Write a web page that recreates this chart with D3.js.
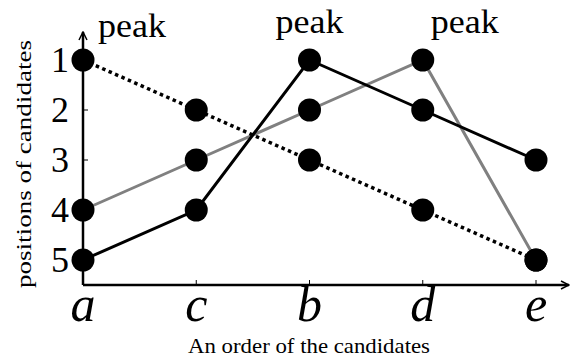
<!DOCTYPE html>
<html><head><meta charset="utf-8">
<script src="https://cdn.jsdelivr.net/npm/d3@7"></script>
<style>body{margin:0;background:#fff}svg{display:block}text{font-family:"Liberation Serif","DejaVu Serif",serif;fill:#000}</style>
</head><body><svg id="c" width="570" height="358"></svg>
<script>
const categories = ["a","c","b","d","e"];
const positions = [1,2,3,4,5];
const seriesDotted = [1,2,3,4,5];
const seriesGray = [4,3,2,1,5];
const seriesBlack = [5,4,1,2,3];
const peakCats = ["a","b","d"];
const xTitle = "An order of the candidates";
const yTitle = "positions of candidates";

const svg = d3.select("#c");
const x = d3.scalePoint().domain(categories).range([83,536]);
const y = d3.scaleLinear().domain([1,5]).range([60,260]);
const axisY = 285, axisX = 83;
const ff = "'Liberation Serif', serif";

svg.append("defs").append("marker").attr("id","arr").attr("viewBox","0 0 10 10")
  .attr("refX",9).attr("refY",5).attr("markerWidth",10).attr("markerHeight",10)
  .attr("markerUnits","userSpaceOnUse").attr("orient","auto")
  .append("path").attr("d","M1,1 L9,5 L1,9").attr("fill","none").attr("stroke","#000").attr("stroke-width",1.5);
svg.append("line").attr("x1",axisX).attr("y1",axisY).attr("x2",569).attr("y2",axisY)
  .attr("stroke","#000").attr("stroke-width",2.5).attr("marker-end","url(#arr)");
svg.append("line").attr("x1",axisX).attr("y1",axisY).attr("x2",axisX).attr("y2",32)
  .attr("stroke","#000").attr("stroke-width",2.5).attr("marker-end","url(#arr)");

svg.selectAll(".xt").data(categories.slice(1)).join("line")
  .attr("x1",d=>x(d)).attr("x2",d=>x(d)).attr("y1",axisY).attr("y2",axisY-5)
  .attr("stroke","#000").attr("stroke-width",1);
svg.selectAll(".yt").data(positions.slice(1)).join("line")
  .attr("x1",axisX).attr("x2",axisX+5).attr("y1",d=>y(d)).attr("y2",d=>y(d))
  .attr("stroke","#000").attr("stroke-width",1);

svg.selectAll(".yl").data(positions).join("text")
  .attr("x",60).attr("y",d=>y(d)+12).attr("text-anchor","middle").attr("font-family",ff)
  .attr("font-size",36).text(d=>d);
svg.selectAll(".xl").data(categories).join("text")
  .attr("x",d=>x(d)).attr("y",321).attr("text-anchor","middle").attr("font-family",ff)
  .attr("font-size",50).attr("font-style","italic").text(d=>d);

svg.append("text").attr("x",309).attr("y",353).attr("text-anchor","middle").attr("font-family",ff)
  .attr("font-size",22).attr("textLength",242).attr("lengthAdjust","spacingAndGlyphs").text(xTitle);
svg.append("text").attr("transform","translate(31,164) rotate(-90)").attr("text-anchor","middle").attr("font-family",ff)
  .attr("font-size",22).attr("textLength",248).attr("lengthAdjust","spacingAndGlyphs").text(yTitle);

const line = d3.line().x((d,i)=>x(categories[i])).y(d=>y(d));
svg.append("path").attr("d",line(seriesGray)).attr("fill","none").attr("stroke","#808080").attr("stroke-width",3);
svg.append("path").attr("d",line(seriesBlack)).attr("fill","none").attr("stroke","#000").attr("stroke-width",3);
svg.append("path").attr("d",line(seriesDotted)).attr("fill","none").attr("stroke","#000").attr("stroke-width",3.5).attr("stroke-dasharray","3.5,3.5");

[seriesDotted, seriesGray, seriesBlack].forEach(s=>{
  svg.append("g").selectAll("circle").data(s).join("circle")
    .attr("cx",(d,i)=>x(categories[i])).attr("cy",d=>y(d)).attr("r",11.5).attr("fill","#000");
});

const peakOffset = {a:49,b:0,d:42};
const peakBase = {a:37,b:33,d:33};
svg.selectAll(".pk").data(peakCats).join("text")
  .attr("x",d=>x(d)+peakOffset[d]).attr("y",d=>peakBase[d]).attr("text-anchor","middle").attr("font-family",ff)
  .attr("font-size",33).attr("textLength",68).attr("lengthAdjust","spacingAndGlyphs").text("peak");
</script></body></html>
